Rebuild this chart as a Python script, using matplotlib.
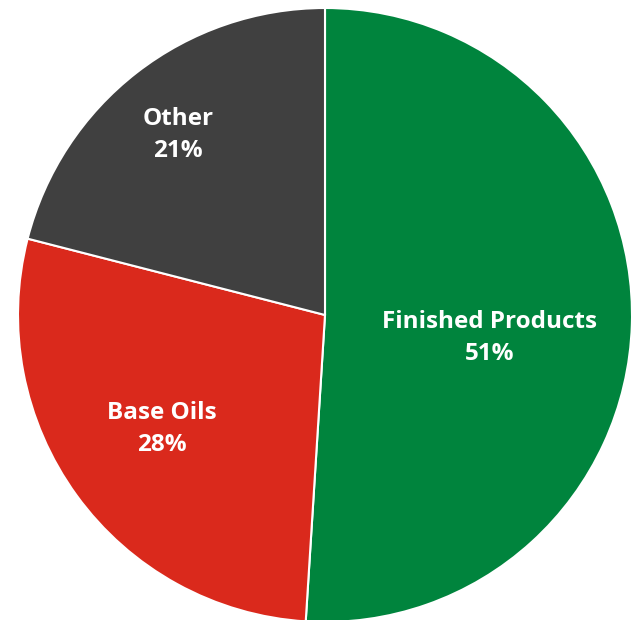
import numpy as np
import matplotlib.pyplot as plt

# Datos
labels = ["Finished Products", "Base Oils", "Other"]
shares = [51, 28, 21]
colors = ["#00843D", "#DA291C", "#404040"]
label_r = [0.542, 0.648, 0.757]
label_dang = [-6.2, -1.1, 1.5]

fig = plt.figure(figsize=(6.31, 6.20), dpi=100)
ax = fig.add_axes([18 / 631, -2 / 620, 614 / 631, 614 / 620])

wedges, _ = ax.pie(shares, colors=colors, startangle=90, counterclock=False,
                   wedgeprops=dict(edgecolor="white", linewidth=1.5))

for w, lab, s, r, da in zip(wedges, labels, shares, label_r, label_dang):
    ang = np.deg2rad((w.theta1 + w.theta2) / 2 + da)
    ax.text(r * np.cos(ang), r * np.sin(ang), f"{lab}\n{s}%", ha="center", va="center",
            color="white", fontsize=17.5, fontweight="bold", family="Open Sans",
            linespacing=1.45)

ax.set_xlim(-1, 1)
ax.set_ylim(-1, 1)
ax.set_aspect("equal")
fig.savefig("out.png", dpi=100)
